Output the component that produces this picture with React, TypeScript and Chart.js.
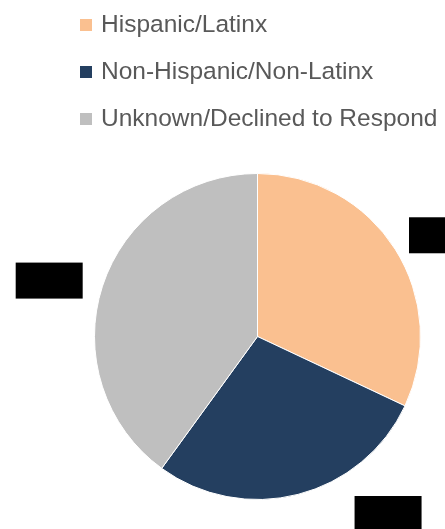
import React, { useEffect, useRef } from "react";
import { Chart, registerables } from "chart.js";

Chart.register(...registerables);

// ---- data ----
const categories = ["Hispanic/Latinx", "Non-Hispanic/Non-Latinx", "Unknown/Declined to Respond"];
const shares = [32, 28, 40];

// ---- styles ----
const sliceColors = ["#FAC090", "#243F60", "#BFBFBF"];
// redacted data-label boxes, offsets from pie centre in units of radius
const labelOffsets = [
  { x: 1.135, y: -0.621 },
  { x: 0.801, y: 1.089 },
  { x: -1.278, y: -0.343 },
];
const LABEL_W = 67;
const LABEL_H = 36;

const redactedLabels = {
  id: "redactedLabels",
  afterDatasetsDraw(chart: any) {
    const meta = chart.getDatasetMeta(0);
    const ctx = chart.ctx;
    ctx.save();
    ctx.fillStyle = "#000000";
    meta.data.forEach((arc: any, i: number) => {
      const off = labelOffsets[i];
      const cx = arc.x + off.x * arc.outerRadius;
      const cy = arc.y + off.y * arc.outerRadius;
      ctx.fillRect(cx - LABEL_W / 2, cy - LABEL_H / 2, LABEL_W, LABEL_H);
    });
    ctx.restore();
  },
};

export default function App() {
  const ref = useRef<HTMLCanvasElement | null>(null);

  useEffect(() => {
    if (!ref.current) return;
    const chart = new Chart(ref.current, {
      type: "pie",
      data: {
        labels: categories,
        datasets: [
          {
            data: shares,
            backgroundColor: sliceColors,
            borderColor: "#ffffff",
            borderWidth: 1,
          },
        ],
      },
      options: {
        animation: false,
        responsive: false,
        maintainAspectRatio: false,
        layout: { padding: { left: 94, right: 24, top: 173, bottom: 29 } },
        plugins: {
          legend: { display: false },
          tooltip: { enabled: false },
        },
      },
      plugins: [redactedLabels],
    });
    return () => chart.destroy();
  }, []);

  return (
    <div style={{ position: "fixed", left: 0, top: 0, width: 445, height: 529, background: "#fff", overflow: "hidden" }}>
      <canvas ref={ref} width={445} height={529} style={{ position: "absolute", left: 0, top: 0, width: 445, height: 529 }} />
      {categories.map((c, i) => (
        <div
          key={c}
          style={{
            position: "absolute",
            left: 80,
            top: 10 + i * 47,
            height: 27,
            lineHeight: "27px",
            fontFamily: "'Liberation Sans', Arial, sans-serif",
            fontSize: 24.5,
            color: "#595959",
            whiteSpace: "nowrap",
          }}
        >
          <span
            style={{
              position: "absolute",
              left: 0,
              top: 9,
              width: 12,
              height: 12,
              background: sliceColors[i],
            }}
          />
          <span style={{ position: "absolute", left: 21, top: 0 }}>{c}</span>
        </div>
      ))}
    </div>
  );
}
